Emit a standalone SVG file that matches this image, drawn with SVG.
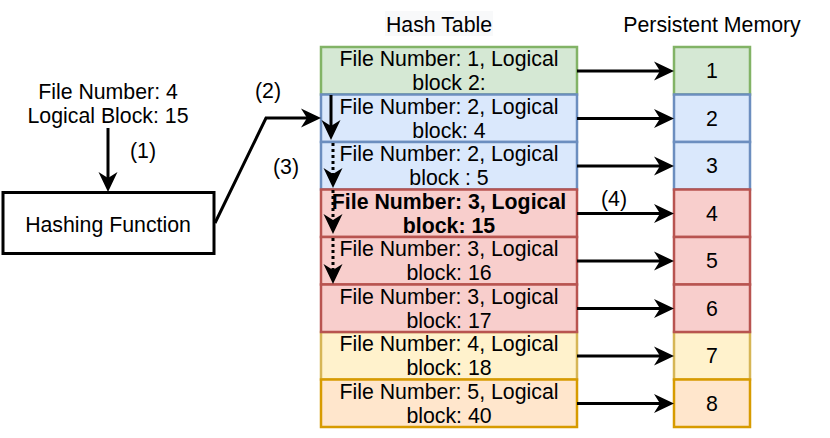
<svg xmlns="http://www.w3.org/2000/svg" width="830" height="438" viewBox="0 0 830 438">
<style>
text{font-family:"Liberation Sans",Arial,sans-serif;font-size:21.3px;fill:#000;text-anchor:middle}
.b{font-weight:bold}
.g{fill:#d5e8d4;stroke:#82b366;stroke-width:2.5}
.bl{fill:#dae8fc;stroke:#6c8ebf;stroke-width:2.5}
.r{fill:#f8cecc;stroke:#b85450;stroke-width:2.5}
.y{fill:#fff2cc;stroke:#d6b656;stroke-width:2.5}
.o{fill:#ffe6cc;stroke:#d79b00;stroke-width:2.5}
.ln{fill:none;stroke:#000;stroke-width:3}
.dot{stroke-dasharray:3 3}
</style>
<defs>
<marker id="ah" markerUnits="userSpaceOnUse" markerWidth="22" markerHeight="22" refX="8" refY="10" orient="auto" overflow="visible">
<path d="M20,10 L0,0.5 L6,10 L0,19.5 Z" fill="#000"/>
</marker>
</defs>
<rect x="385" y="11" width="108" height="25" fill="#f8f9fa"/>
<text x="439" y="32">Hash Table</text>
<text x="712" y="32">Persistent Memory</text>
<text x="108" y="99">File Number: 4</text>
<text x="108" y="123">Logical Block: 15</text>
<g id="hash">
<rect x="3" y="192.5" width="211" height="61" fill="#fff" stroke="#000" stroke-width="3"/>
<text x="108" y="232">Hashing Function</text>
</g>
<g id="table">
<g id="t1"><rect class="g" x="321" y="47" width="256" height="47.5"/></g>
<g id="t2"><rect class="bl" x="321" y="94.5" width="256" height="47.5"/></g>
<g id="t3"><rect class="bl" x="321" y="142" width="256" height="47.5"/></g>
<g id="t7"><rect class="y" x="321" y="332" width="256" height="47.5"/></g>
<g id="t4"><rect class="r" x="321" y="189.5" width="256" height="47.5"/></g>
<g id="t5"><rect class="r" x="321" y="237" width="256" height="47.5"/></g>
<g id="t6"><rect class="r" x="321" y="284.5" width="256" height="47.5"/></g>
<g id="t8"><rect class="o" x="321" y="379.5" width="256" height="47.5"/></g>
<text x="449" y="66">File Number: 1, Logical</text><text x="449" y="90">block 2:</text>
<text x="449" y="113.5">File Number: 2, Logical</text><text x="449" y="137.5">block: 4</text>
<text x="449" y="161">File Number: 2, Logical</text><text x="449" y="185">block : 5</text>
<text class="b" x="449" y="208.5">File Number: 3, Logical</text><text class="b" x="449" y="232.5">block: 15</text>
<text x="449" y="256">File Number: 3, Logical</text><text x="449" y="280">block: 16</text>
<text x="449" y="303.5">File Number: 3, Logical</text><text x="449" y="327.5">block: 17</text>
<text x="449" y="351">File Number: 4, Logical</text><text x="449" y="375">block: 18</text>
<text x="449" y="398.5">File Number: 5, Logical</text><text x="449" y="422.5">block: 40</text>
</g>
<g id="memory">
<g id="m1"><rect class="g" x="674" y="47" width="76" height="47.5"/><text x="712" y="78">1</text></g>
<g id="m2"><rect class="bl" x="674" y="94.5" width="76" height="47.5"/><text x="712" y="125.5">2</text></g>
<g id="m3"><rect class="bl" x="674" y="142" width="76" height="47.5"/><text x="712" y="173">3</text></g>
<g id="m7"><rect class="y" x="674" y="332" width="76" height="47.5"/><text x="712" y="363">7</text></g>
<g id="m4"><rect class="r" x="674" y="189.5" width="76" height="47.5"/><text x="712" y="220.5">4</text></g>
<g id="m5"><rect class="r" x="674" y="237" width="76" height="47.5"/><text x="712" y="268">5</text></g>
<g id="m6"><rect class="r" x="674" y="284.5" width="76" height="47.5"/><text x="712" y="315.5">6</text></g>
<g id="m8"><rect class="o" x="674" y="379.5" width="76" height="47.5"/><text x="712" y="410.5">8</text></g>
</g>
<g id="connectors">
<path class="ln" d="M108,128 V180" marker-end="url(#ah)"/>
<path class="ln" d="M215,223 L266,118 H309" marker-end="url(#ah)"/>
<path class="ln" d="M331,95 V128" marker-end="url(#ah)"/>
<path class="ln dot" d="M333,143 V176" marker-end="url(#ah)"/>
<path class="ln dot" d="M333,190 V222" marker-end="url(#ah)"/>
<path class="ln dot" d="M333,238 V272" marker-end="url(#ah)"/>
<path class="ln" d="M577,71 H662" marker-end="url(#ah)"/>
<path class="ln" d="M577,118.5 H662" marker-end="url(#ah)"/>
<path class="ln" d="M577,166 H662" marker-end="url(#ah)"/>
<path class="ln" d="M577,213.5 H662" marker-end="url(#ah)"/>
<path class="ln" d="M577,261 H662" marker-end="url(#ah)"/>
<path class="ln" d="M577,308.5 H662" marker-end="url(#ah)"/>
<path class="ln" d="M577,356 H662" marker-end="url(#ah)"/>
<path class="ln" d="M577,403.5 H662" marker-end="url(#ah)"/>
<text x="143" y="158">(1)</text>
<text x="268" y="98">(2)</text>
<text x="286" y="174">(3)</text>
<text x="614" y="206">(4)</text>
</g>
</svg>
